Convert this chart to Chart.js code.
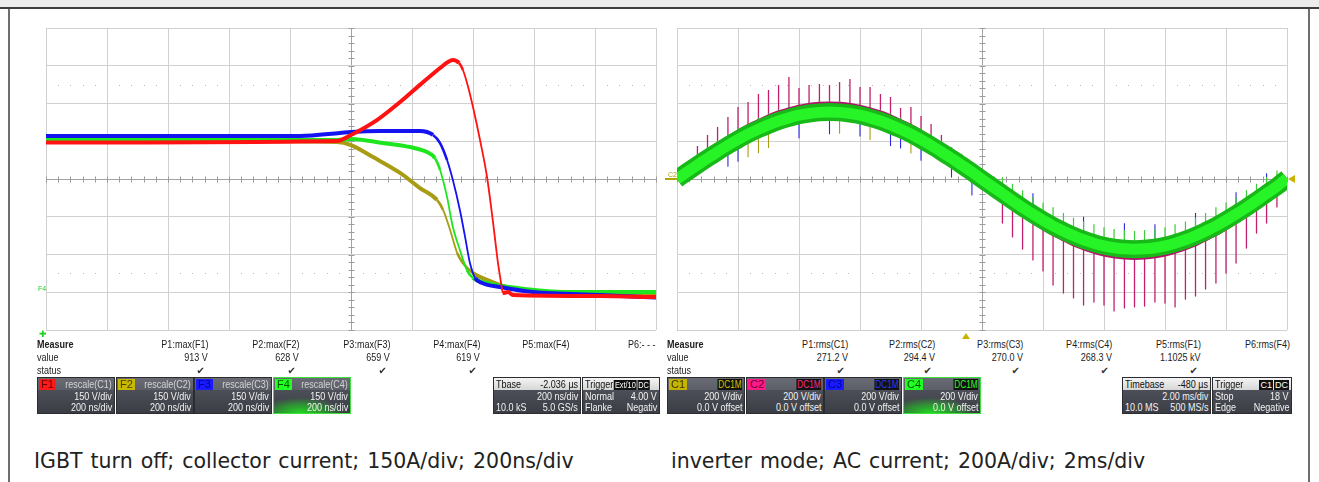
<!DOCTYPE html>
<html>
<head>
<meta charset="utf-8">
<script src="https://cdn.jsdelivr.net/npm/chart.js@4.4.1/dist/chart.umd.min.js"></script>
<style>
body{margin:0;background:#fff;width:1319px;height:482px;overflow:hidden;position:relative;
  font-family:"Liberation Sans",Arial,sans-serif;}
.abs{position:absolute}
#topbar{left:0;top:0;width:1319px;height:7px;background:#ececec;border-bottom:2px solid #3e3e3e}
#lline{left:8px;top:9px;width:2px;height:473px;background:#6e6e6e}
#rline{left:1308px;top:9px;width:2px;height:473px;background:#6e6e6e}
canvas{position:absolute}
.n{display:inline-block;transform:scaleX(0.82);transform-origin:right center}
.nl{display:inline-block;transform:scaleX(0.82);transform-origin:left center}
.col{position:absolute;top:338px;font-size:11px;line-height:13px;color:#1c1c1c;text-align:right;white-space:nowrap}
.col.first{text-align:left}
.chk{font-family:"DejaVu Sans";font-size:10px;padding-right:3px;color:#333}
.box{position:absolute;top:377px;width:76px;height:35px;color:#f2f2f2;font-size:11px;white-space:nowrap;overflow:hidden;
  background:linear-gradient(#686b73 0,#5c5f67 34%,#4c4f57 35%,#3a3d44 100%);border:1px solid #2a2c30}
.box.on{border-color:#3de03d;background:radial-gradient(ellipse 70% 55% at 35% 100%,#22d822 0,rgba(34,216,34,0.5) 45%,rgba(34,216,34,0) 80%),
  linear-gradient(#686b73 0,#5c5f67 34%,#4c4f57 35%,#3a3d44 100%)}
.badge{position:absolute;left:1px;top:1px;height:11px;line-height:11px;padding:0 2px;font-size:11px}
.dc{position:absolute;right:2px;top:1px;height:11px;line-height:11px;padding:0 1px;background:#111;font-size:10px}
.t1{position:absolute;right:2px;top:0;line-height:12px;color:#d4d4d4}
.t2{position:absolute;right:2px;top:12px;line-height:12px}
.t3{position:absolute;right:2px;top:23px;line-height:12px}
.l2{position:absolute;left:2px;top:12px;line-height:12px}
.l3{position:absolute;left:2px;top:23px;line-height:12px}
.head{position:absolute;left:0;top:0;width:100%;height:12px;background:linear-gradient(#f4f4f4,#d6d6d6);color:#111}
.head .a{position:absolute;left:2px;top:0;line-height:12px}
.head .b{position:absolute;right:2px;top:0;line-height:12px}
.blk{display:inline-block;background:#111;color:#fff;font-size:9px;line-height:10px;padding:0 1px;margin-left:1px}
.caption{position:absolute;top:449px;font-family:"DejaVu Sans";font-size:20.5px;word-spacing:1.5px;color:#222;white-space:nowrap}
.mk{position:absolute;font-size:7px;line-height:7px}
</style>
</head>
<body>
<div id="topbar" class="abs"></div>
<div id="lline" class="abs"></div>
<div id="rline" class="abs"></div>

<canvas id="leftScope" width="612" height="304" style="left:45px;top:27px"></canvas>
<canvas id="rightScope" width="612" height="304" style="left:676px;top:27px"></canvas>

<!-- small scope markers -->
<div class="mk" style="left:38px;top:285px;color:#1ed01e">F4</div>
<div class="mk" style="left:39px;top:331px;color:#1ed01e;font-size:9px">&#10010;</div>
<div class="mk" style="left:668px;top:171px;color:#b0a400">C2</div>
<div class="abs" style="left:665px;top:178px;width:12px;height:2px;background:#b0a400"></div>
<div class="abs" style="left:1288px;top:175px;width:0;height:0;border-top:4px solid transparent;border-bottom:4px solid transparent;border-right:7px solid #c8b400"></div>
<div class="abs" style="left:962px;top:333px;width:0;height:0;border-left:4px solid transparent;border-right:4px solid transparent;border-bottom:6px solid #c8b400"></div>

<!-- measurement rows, left scope -->
<div class="col first" style="left:37px"><span class="nl"><b>Measure</b></span><br><span class="nl">value</span><br><span class="nl">status</span></div>
<div class="col" style="right:1111px"><span class="n">P1:max(F1)</span><br><span class="n">913 V</span><br><span class="chk">&#10004;</span></div>
<div class="col" style="right:1020px"><span class="n">P2:max(F2)</span><br><span class="n">628 V</span><br><span class="chk">&#10004;</span></div>
<div class="col" style="right:929px"><span class="n">P3:max(F3)</span><br><span class="n">659 V</span><br><span class="chk">&#10004;</span></div>
<div class="col" style="right:839px"><span class="n">P4:max(F4)</span><br><span class="n">619 V</span><br><span class="chk">&#10004;</span></div>
<div class="col" style="right:750px"><span class="n">P5:max(F4)</span><br>&nbsp;<br>&nbsp;</div>
<div class="col" style="right:663px"><span class="n">P6:- - -</span><br>&nbsp;<br>&nbsp;</div>

<!-- measurement rows, right scope -->
<div class="col first" style="left:667px"><span class="nl"><b>Measure</b></span><br><span class="nl">value</span><br><span class="nl">status</span></div>
<div class="col" style="right:471px"><span class="n">P1:rms(C1)</span><br><span class="n">271.2 V</span><br><span class="chk">&#10004;</span></div>
<div class="col" style="right:384px"><span class="n">P2:rms(C2)</span><br><span class="n">294.4 V</span><br><span class="chk">&#10004;</span></div>
<div class="col" style="right:296px"><span class="n">P3:rms(C3)</span><br><span class="n">270.0 V</span><br><span class="chk">&#10004;</span></div>
<div class="col" style="right:207px"><span class="n">P4:rms(C4)</span><br><span class="n">268.3 V</span><br><span class="chk">&#10004;</span></div>
<div class="col" style="right:118px"><span class="n">P5:rms(F1)</span><br><span class="n">1.1025 kV</span><br><span class="chk">&#10004;</span></div>
<div class="col" style="right:29px"><span class="n">P6:rms(F4)</span><br>&nbsp;<br>&nbsp;</div>

<!-- channel boxes, left -->
<div class="box" style="left:37px"><span class="badge" style="background:#ff1a1a;color:#6a0000">F1</span><span class="t1 n">rescale(C1)</span><span class="t2 n">150 V/div</span><span class="t3 n">200 ns/div</span></div>
<div class="box" style="left:116px"><span class="badge" style="background:#c9b800;color:#4a4200">F2</span><span class="t1 n">rescale(C2)</span><span class="t2 n">150 V/div</span><span class="t3 n">200 ns/div</span></div>
<div class="box" style="left:194px"><span class="badge" style="background:#1a1aff;color:#00009a">F3</span><span class="t1 n">rescale(C3)</span><span class="t2 n">150 V/div</span><span class="t3 n">200 ns/div</span></div>
<div class="box on" style="left:273px"><span class="badge" style="background:#22ff22;color:#005a00">F4</span><span class="t1 n">rescale(C4)</span><span class="t2 n">150 V/div</span><span class="t3 n">200 ns/div</span></div>

<div class="box" style="left:493px;width:86px"><div class="head"><span class="a nl">Tbase</span><span class="b n">-2.036 µs</span></div><span class="t2 n">200 ns/div</span><span class="l3 nl">10.0 kS</span><span class="t3 n">5.0 GS/s</span></div>
<div class="box" style="left:582px;width:76px"><div class="head"><span class="a nl">Trigger<span class="blk">Ext/10</span><span class="blk">DC</span></span></div><span class="l2 nl">Normal</span><span class="t2 n">4.00 V</span><span class="l3 nl">Flanke</span><span class="t3 n">Negativ</span></div>

<!-- channel boxes, right -->
<div class="box" style="left:667px"><span class="badge" style="background:#c4b400;color:#3c3600">C1</span><span class="dc n" style="color:#d4c400">DC1M</span><span class="t2 n">200 V/div</span><span class="t3 n">0.0 V offset</span></div>
<div class="box" style="left:746px"><span class="badge" style="background:#ff1a8c;color:#6a0030">C2</span><span class="dc n" style="color:#ff2a90">DC1M</span><span class="t2 n">200 V/div</span><span class="t3 n">0.0 V offset</span></div>
<div class="box" style="left:824px"><span class="badge" style="background:#1a1aff;color:#00009a">C3</span><span class="dc n" style="color:#2a3aff">DC1M</span><span class="t2 n">200 V/div</span><span class="t3 n">0.0 V offset</span></div>
<div class="box on" style="left:903px"><span class="badge" style="background:#22ff22;color:#005a00">C4</span><span class="dc n" style="color:#2aff2a">DC1M</span><span class="t2 n">200 V/div</span><span class="t3 n">0.0 V offset</span></div>

<div class="box" style="left:1122px;width:87px"><div class="head"><span class="a nl">Timebase</span><span class="b n">-480 µs</span></div><span class="t2 n">2.00 ms/div</span><span class="l3 nl">10.0 MS</span><span class="t3 n">500 MS/s</span></div>
<div class="box" style="left:1212px;width:78px"><div class="head"><span class="a nl">Trigger</span><span class="b"><span class="blk">C1</span><span class="blk">DC</span></span></div><span class="l2 nl">Stop</span><span class="t2 n">18 V</span><span class="l3 nl">Edge</span><span class="t3 n">Negative</span></div>

<div class="caption" style="left:34px">IGBT turn off; collector current; 150A/div; 200ns/div</div>
<div class="caption" style="left:671px">inverter mode; AC current; 200A/div; 2ms/div</div>

<script>
/* ==========================================
   LEFT SCOPE: IGBT TURN OFF (ns, A)
========================================== */

// F1 (red)
const f1TimeNs = [-1000, -46, 0, 85, 161, 226, 292, 318, 334, 354, 367, 384, 400, 423, 446, 466, 482, 492, 498, 515, 531, 816, 1000];
const f1CurrentA = [145, 151, 175, 234, 306, 374, 441, 465, 473, 461, 433, 366, 286, 155, 8, -175, -334, -413, -453, -449, -461, -465, -469];

// F2 (olive)
const f2TimeNs = [-1000, -46, 0, 72, 161, 226, 282, 302, 325, 348, 367, 400, 446, 511, 652, 1000];
const f2CurrentA = [155, 147, 135, 87, 24, -36, -83, -123, -203, -294, -334, -374, -401, -429, -449, -453];

// F3 (blue)
const f3TimeNs = [-1000, -167, -36, 0, 95, 226, 269, 292, 315, 334, 357, 374, 390, 407, 430, 489, 597, 816, 1000];
const f3CurrentA = [171, 171, 183, 187, 191, 191, 175, 143, 75, -4, -123, -230, -334, -393, -413, -429, -449, -461, -471];

// F4 (green)
const f4TimeNs = [-1000, -46, 0, 105, 193, 249, 275, 292, 315, 334, 357, 380, 400, 446, 544, 708, 1000];
const f4CurrentA = [159, 155, 159, 143, 127, 107, 83, 36, -72, -191, -282, -362, -393, -413, -433, -449, -449];


/* ==========================================
   RIGHT SCOPE: INVERTER AC CURRENT (ms, A)
========================================== */

const acTimeMs = [-10, -9.67, -9.33, -9, -8.67, -8.33, -8, -7.67, -7.33, -7, -6.67, -6.33, -6, -5.67, -5.33, -5,
    -4.67, -4.33, -4, -3.67, -3.33, -3, -2.67, -2.33, -2, -1.67, -1.33, -1, -0.67, -0.33, 0,
    0.33, 0.67, 1, 1.33, 1.67, 2, 2.33, 2.67, 3, 3.33, 3.67, 4, 4.33, 4.67, 5,
    5.33, 5.67, 6, 6.33, 6.67, 7, 7.33, 7.67, 8, 8.33, 8.67, 9, 9.33, 9.67, 10];

// C4 (green band)
const c4CurrentA = [0, 37, 74, 110, 144, 178, 209, 238, 264, 287, 307, 324, 338, 347, 353, 355,
    353, 347, 338, 324, 307, 287, 264, 238, 209, 178, 144, 110, 74, 37, -2,
    -39, -77, -115, -151, -186, -219, -249, -276, -301, -322, -340, -354, -364, -370, -372,
    -370, -364, -354, -340, -322, -301, -276, -249, -219, -186, -151, -115, -77, -39, 4];

// C2 (magenta band, under the green)
const c2CurrentA = [0, 39, 78, 116, 152, 187, 220, 251, 278, 303, 325, 342, 356, 366, 372, 374,
    372, 366, 356, 342, 325, 303, 278, 251, 220, 187, 152, 116, 78, 39, 0,
    -41, -81, -121, -159, -196, -230, -262, -290, -317, -339, -358, -373, -383, -390, -392,
    -390, -383, -373, -358, -339, -317, -290, -262, -230, -196, -159, -121, -81, -41, 2];

// switching spikes: tip value per sample (null = no spike)
const c2SpikeTipA = [null, null, 175, 233, 275, 328, 381, 408, 450, 472, 498, 540, 482, 498, 503, 498,
    514, 530, 487, 487, 450, 434, 376, 381, 334, 291, 233, 170, 117, null, null,
    null, -233, -307, -371, -429, -487, -562, -604, -630, -668, -652, -668, -699, -683, -678,
    -673, -652, -657, -678, -636, -620, -583, -551, -498, -445, -366, -286, -233, -148, null];

const c4SpikeTipA = [null, null, 134, 170, 204, 238, 269, 298, 324, 347, 367, 384, 398, 407, 413, 415,
    413, 407, 398, 384, 367, 347, 324, 298, 269, 238, 204, 170, 134, null, null,
    null, 10, -25, -60, -95, -125, -150, -180, -205, -225, -240, -255, -265, -270, -275,
    -270, -265, -255, -240, -225, -205, -180, -150, -125, -95, -60, -25, 10, 45, null];

const c3SpikeTipA = [null, null, null, null, null, 68, 94, null, null, null, null, null, 218, null, null, 240,
    null, null, 228, null, null, 177, 164, null, 99, null, null, 10, null, -85, null,
    null, null, null, null, -76, null, null, null, null, -200, null, null, null, -235, null,
    null, -240, null, null, null, -180, null, null, null, -70, null, null, 30, null, null];

const c1SpikeTipA = [null, null, null, null, null, null, null, 118, 139, 167, null, null, null, null, null, null,
    243, null, null, 209, null, null, null, 138, null, null, null, null, null, null, null,
    null, null, null, null, null, null, null, null, null, null, null, null, null, null, null,
    null, null, null, null, null, null, null, null, null, null, null, null, null, null, null];


/* ==========================================
   HELPERS
========================================== */

function points(xs, ys) {
    return xs.map((x, i) => ({ x: x, y: ys[i] }));
}

// vertical strokes from the band value to the spike tip, broken by gaps
function spikes(base, tips) {
    const out = [];
    tips.forEach((tip, i) => {
        if (tip === null) return;
        out.push({ x: acTimeMs[i], y: base[i] });
        out.push({ x: acTimeMs[i], y: tip });
        out.push({ x: acTimeMs[i], y: null });
    });
    return out;
}

function trace(data, color, width, order, smooth) {
    return {
        data: data,
        borderColor: color,
        borderWidth: width,
        pointRadius: 0,
        order: order,
        spanGaps: false,
        fill: false,
        cubicInterpolationMode: smooth ? "monotone" : "default",
        tension: 0,
        borderJoinStyle: "round",
        borderCapStyle: "butt"
    };
}

// noisy flat parts look thick, the fast edges thin
function scopeTrace(data, color, order) {
    const ds = trace(data, color, 4, order, true);
    ds.segment = {
        borderWidth: (c) => {
            const dx = Math.abs(c.p1.x - c.p0.x) || 0.01;
            const slope = Math.abs(c.p1.y - c.p0.y) / dx;
            return slope > 2.5 ? 1.8 : slope > 1 ? 2.6 : 4;
        }
    };
    return ds;
}

// oscilloscope graticule: centre-line ticks and dotted rows
const scopeMarks = {
    id: "scopeMarks",
    beforeDatasetsDraw(chart, args, opts) {
        const ctx = chart.ctx;
        const x = chart.scales.x;
        const y = chart.scales.y;
        const x0 = Math.round(x.getPixelForValue(0)) + 0.5;
        const y0 = Math.round(y.getPixelForValue(0)) + 0.5;
        ctx.save();
        ctx.strokeStyle = "#9c9c9c";
        ctx.lineWidth = 1;
        ctx.beginPath();
        for (let i = 0; i <= 50; i++) {
            const px = Math.round(x.getPixelForValue(x.min + i * opts.xDiv / 5)) + 0.5;
            ctx.moveTo(px, y0 - 3);
            ctx.lineTo(px, y0 + 3);
        }
        for (let i = 0; i <= 40; i++) {
            const py = Math.round(y.getPixelForValue(y.min + i * opts.yDiv / 5)) + 0.5;
            ctx.moveTo(x0 - 3, py);
            ctx.lineTo(x0 + 3, py);
        }
        ctx.stroke();
        ctx.fillStyle = "#b8b8b8";
        [2.5, -2.5].forEach(d => {
            const py = Math.round(y.getPixelForValue(d * opts.yDiv));
            for (let i = 1; i < 50; i++) {
                if (i % 5 === 0) continue;
                const px = Math.round(x.getPixelForValue(x.min + i * opts.xDiv / 5));
                ctx.fillRect(px, py, 1, 1);
            }
        });
        ctx.restore();
    }
};

function scopeOptions(xMin, xMax, xDiv, yMin, yMax, yDiv) {
    const gridColor = (c) => c.tick.value === 0 ? "#a2a2a2" : "#d0d0d0";
    return {
        responsive: false,
        animation: false,
        events: [],
        layout: { padding: 1 },
        plugins: {
            legend: { display: false },
            tooltip: { enabled: false },
            scopeMarks: { xDiv: xDiv, yDiv: yDiv }
        },
        scales: {
            x: {
                type: "linear",
                min: xMin,
                max: xMax,
                ticks: { display: false, stepSize: xDiv },
                grid: { color: gridColor, drawTicks: false },
                border: { display: false }
            },
            y: {
                type: "linear",
                min: yMin,
                max: yMax,
                ticks: { display: false, stepSize: yDiv },
                grid: { color: gridColor, drawTicks: false },
                border: { display: false }
            }
        }
    };
}


/* ==========================================
   LEFT CHART
========================================== */

new Chart(document.getElementById("leftScope"), {
    type: "line",
    data: {
        datasets: [
            scopeTrace(points(f1TimeNs, f1CurrentA), "#ff1212", 1),
            scopeTrace(points(f3TimeNs, f3CurrentA), "#1414f0", 2),
            scopeTrace(points(f4TimeNs, f4CurrentA), "#1ee61e", 3),
            scopeTrace(points(f2TimeNs, f2CurrentA), "#a89c14", 4)
        ]
    },
    options: scopeOptions(-1000, 1000, 200, -600, 600, 150),
    plugins: [scopeMarks]
});


/* ==========================================
   RIGHT CHART
========================================== */

new Chart(document.getElementById("rightScope"), {
    type: "line",
    data: {
        datasets: [
            trace(points(acTimeMs, c4CurrentA), "#26f426", 11, 1, true),
            trace(points(acTimeMs, c4CurrentA), "#17b817", 18, 2, true),
            trace(points(acTimeMs, c2CurrentA), "#b0146a", 14, 3, true),
            trace(spikes(c4CurrentA, c4SpikeTipA), "#3ccc3c", 1.2, 4, false),
            trace(spikes(c2CurrentA, c2SpikeTipA), "#c2206e", 1.3, 5, false),
            trace(spikes(c4CurrentA, c3SpikeTipA), "#2a2ae0", 1.1, 6, false),
            trace(spikes(c4CurrentA, c1SpikeTipA), "#a89c14", 1.1, 7, false)
        ]
    },
    options: scopeOptions(-10, 10, 2, -800, 800, 200),
    plugins: [scopeMarks]
});
</script>
</body>
</html>
